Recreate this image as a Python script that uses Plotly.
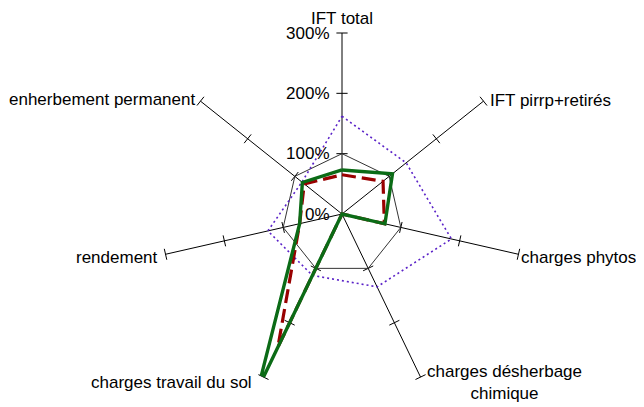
import plotly.graph_objects as go

categories = ["IFT total", "IFT pirrp+retirés", "charges phytos",
              "charges désherbage chimique", "charges travail du sol",
              "rendement", "enherbement permanent"]
category_labels = ["IFT total", "IFT pirrp+retirés", "charges phytos",
                   "charges désherbage<br>chimique", "charges travail du sol",
                   "rendement", "enherbement permanent"]
reference = [100, 100, 100, 100, 100, 100, 100]
serie_max = [162, 136, 186, 134, 113, 126, 85]
serie_red = [65, 87, 72, 0, 245, 72, 80]
serie_green = [73, 107, 73, 0, 320, 72, 84]
radial_ticks = [0, 100, 200, 300]
radial_tick_text = ["0%", "100%", "200%", "300%"]

FONT = "Liberation Sans, Arial, sans-serif"
FS = 17

def closed(v):
    return list(v) + [v[0]]

theta_c = closed(categories)

fig = go.Figure()

# small tick marks across every spoke
tick_r, tick_t, tick_a = [], [], []
n = len(categories)
for i, c in enumerate(categories):
    for t in radial_ticks[1:]:
        tick_r.append(t)
        tick_t.append(c)
        tick_a.append(i * 360.0 / n)
fig.add_trace(go.Scatterpolar(
    r=tick_r, theta=tick_t, mode="markers", hoverinfo="skip", showlegend=False,
    marker=dict(symbol="line-ew", size=8, angle=tick_a,
                line=dict(color="black", width=1)),
))

fig.add_trace(go.Scatterpolar(
    r=closed(reference), theta=theta_c, mode="lines", name="référence",
    line=dict(color="#333333", width=1), showlegend=False,
))
fig.add_trace(go.Scatterpolar(
    r=closed(serie_max), theta=theta_c, mode="lines", name="max",
    line=dict(color="#5a22c8", width=1.6, dash="2px,3px"), showlegend=False,
))
fig.add_trace(go.Scatterpolar(
    r=closed(serie_red), theta=theta_c, mode="lines", name="série 1",
    line=dict(color="#990000", width=3.2, dash="14px,6px"), showlegend=False,
    cliponaxis=False,
))
fig.add_trace(go.Scatterpolar(
    r=closed(serie_green), theta=theta_c, mode="lines", name="série 2",
    line=dict(color="#0b6b16", width=3.4), showlegend=False,
    cliponaxis=False,
))

# figure coordinates (page shows the figure with an 8px body margin)
W, H = 636, 399
cx, cy, R = 334, 206, 181

# category labels: (x, y, xanchor) in figure pixels
label_pos = [
    (334, 10, "center"),
    (480, 92, "left"),
    (511, 249, "left"),
    (417, 374, "left"),
    (246, 374, "right"),
    (152, 249, "right"),
    (189, 91, "right"),
]
annotations = []
for lab, (x, y, xa) in zip(category_labels, label_pos):
    annotations.append(dict(
        text=lab, x=x / W, y=1 - y / H, xref="paper", yref="paper",
        xanchor=xa, yanchor="middle", align="center", showarrow=False,
        font=dict(family=FONT, size=FS, color="black"),
    ))

fig.update_layout(
    width=W, height=H,
    margin=dict(l=0, r=0, t=0, b=0),
    paper_bgcolor="white", plot_bgcolor="white",
    font=dict(family=FONT, size=FS, color="black"),
    showlegend=False,
    annotations=annotations,
    polar=dict(
        domain=dict(x=[(cx - R) / W, (cx + R) / W],
                    y=[(H - cy - R) / H, (H - cy + R) / H]),
        bgcolor="white",
        radialaxis=dict(
            range=[0, 300], angle=90, tickvals=radial_ticks,
            ticktext=radial_tick_text, showgrid=False, showline=False,
            ticks="outside", ticklen=6, tickcolor="rgba(0,0,0,0)",
            side="counterclockwise", tickangle=90,
            tickfont=dict(family=FONT, size=FS, color="black"),
        ),
        angularaxis=dict(
            type="category", categoryarray=categories,
            direction="clockwise", rotation=90,
            showline=False, showgrid=True, gridcolor="black", gridwidth=1,
            ticks="", showticklabels=False,
        ),
    ),
)

fig.write_html("out.html")
